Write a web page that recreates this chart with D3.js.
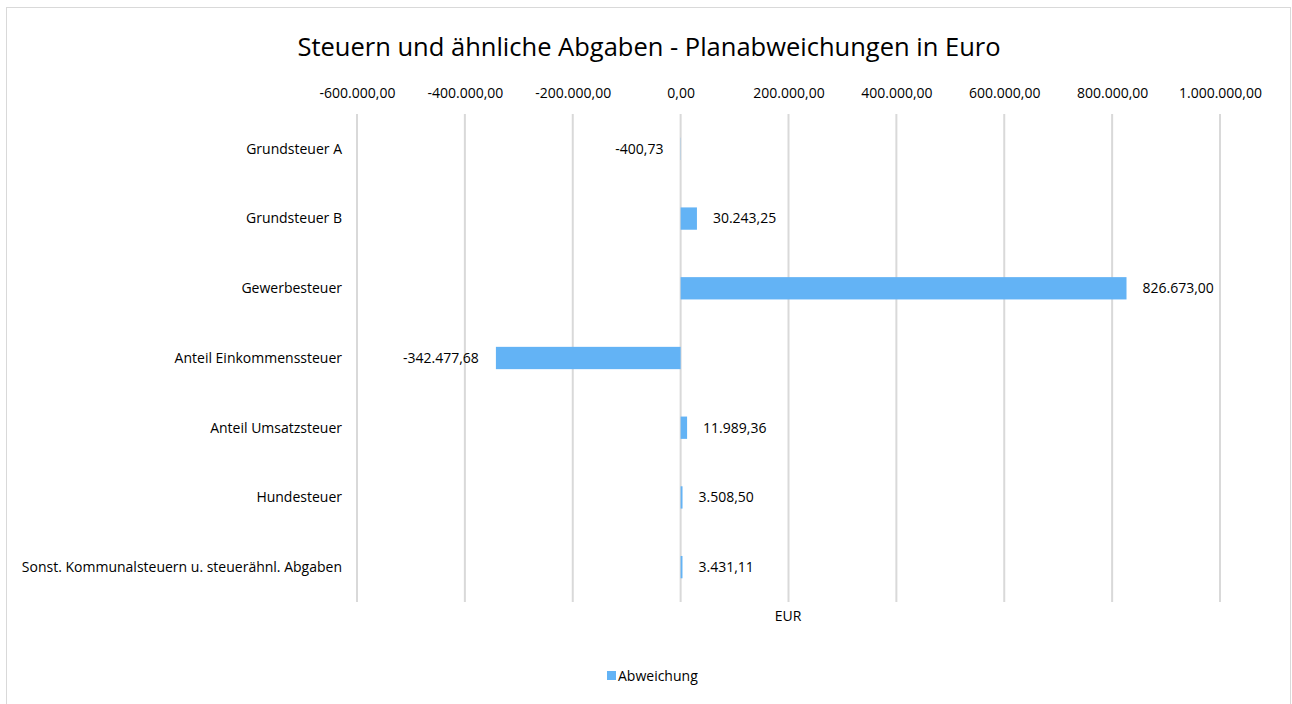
<!DOCTYPE html>
<html>
<head>
<meta charset="utf-8">
<script src="https://cdn.jsdelivr.net/npm/d3@7"></script>
<style>
  body { margin: 0; background: #fff; }
  text { font-family: "Open Sans", sans-serif; fill: #000; }
</style>
</head>
<body>
<div id="chart"></div>
<script>
var categories = [
  'Grundsteuer A',
  'Grundsteuer B',
  'Gewerbesteuer',
  'Anteil Einkommenssteuer',
  'Anteil Umsatzsteuer',
  'Hundesteuer',
  'Sonst. Kommunalsteuern u. steuerähnl. Abgaben'
];
var deviations = [-400.73, 30243.25, 826673.00, -342477.68, 11989.36, 3508.50, 3431.11];
var tickValues = [-600000, -400000, -200000, 0, 200000, 400000, 600000, 800000, 1000000];
var seriesName = 'Abweichung';
var axisTitle = 'EUR';
var chartTitle = 'Steuern und ähnliche Abgaben - Planabweichungen in Euro';

var width = 1292, height = 704;
var barColor = '#63b3f5';

var deFormat = d3.formatLocale({
  decimal: ',', thousands: '.', grouping: [3], currency: ['', ' €'], minus: '-'
}).format(',.2f');

var svg = d3.select('#chart').append('svg')
  .attr('width', width).attr('height', height);

svg.append('rect')
  .attr('x', 6.5).attr('y', 7.5)
  .attr('width', 1284).attr('height', 720)
  .attr('fill', 'none').attr('stroke', '#d9d9d9');

var x = d3.scaleLinear().domain([-600000, 1000000]).range([357, 1220]);
var y = d3.scaleBand().domain(categories).range([114, 602]).paddingInner(0.68).paddingOuter(0.34);

svg.append('text')
  .attr('x', 649).attr('y', 56)
  .attr('text-anchor', 'middle')
  .attr('font-size', 25.5)
  .text(chartTitle);

// gridlines
svg.append('g').selectAll('line')
  .data(tickValues).enter().append('line')
  .attr('x1', function (d) { return x(d); })
  .attr('x2', function (d) { return x(d); })
  .attr('y1', 114).attr('y2', 602)
  .attr('stroke', '#d9d9d9').attr('stroke-width', 2);

// top axis labels
var axis = d3.axisTop(x).tickValues(tickValues).tickFormat(deFormat).tickSize(0).tickPadding(0);
var ax = svg.append('g').attr('transform', 'translate(0,98)').call(axis);
ax.select('.domain').remove();
ax.selectAll('text').attr('font-size', 14).attr('font-family', '"Open Sans", sans-serif').attr('fill', '#000');

// category labels
svg.append('g').selectAll('text')
  .data(categories).enter().append('text')
  .attr('x', 342)
  .attr('y', function (d) { return y(d) + y.bandwidth() / 2; })
  .attr('dy', '0.35em')
  .attr('text-anchor', 'end')
  .attr('font-size', 14)
  .text(function (d) { return d; });

// bars
svg.append('g').selectAll('rect')
  .data(deviations).enter().append('rect')
  .attr('x', function (d) { return x(Math.min(0, d)); })
  .attr('y', function (d, i) { return y(categories[i]); })
  .attr('width', function (d) { return Math.abs(x(d) - x(0)); })
  .attr('height', y.bandwidth())
  .attr('fill', barColor);

// value labels
svg.append('g').selectAll('text')
  .data(deviations).enter().append('text')
  .attr('x', function (d) { return d < 0 ? x(d) - 17 : x(d) + 16; })
  .attr('y', function (d, i) { return y(categories[i]) + y.bandwidth() / 2; })
  .attr('dy', '0.35em')
  .attr('text-anchor', function (d) { return d < 0 ? 'end' : 'start'; })
  .attr('font-size', 14)
  .text(function (d) { return deFormat(d); });

svg.append('text')
  .attr('x', 788).attr('y', 621)
  .attr('text-anchor', 'middle')
  .attr('font-size', 14)
  .text(axisTitle);

// legend
svg.append('rect')
  .attr('x', 607).attr('y', 671).attr('width', 9).attr('height', 9)
  .attr('fill', barColor);
svg.append('text')
  .attr('x', 618).attr('y', 676)
  .attr('dy', '0.35em')
  .attr('font-size', 14)
  .text(seriesName);
</script>
</body>
</html>
